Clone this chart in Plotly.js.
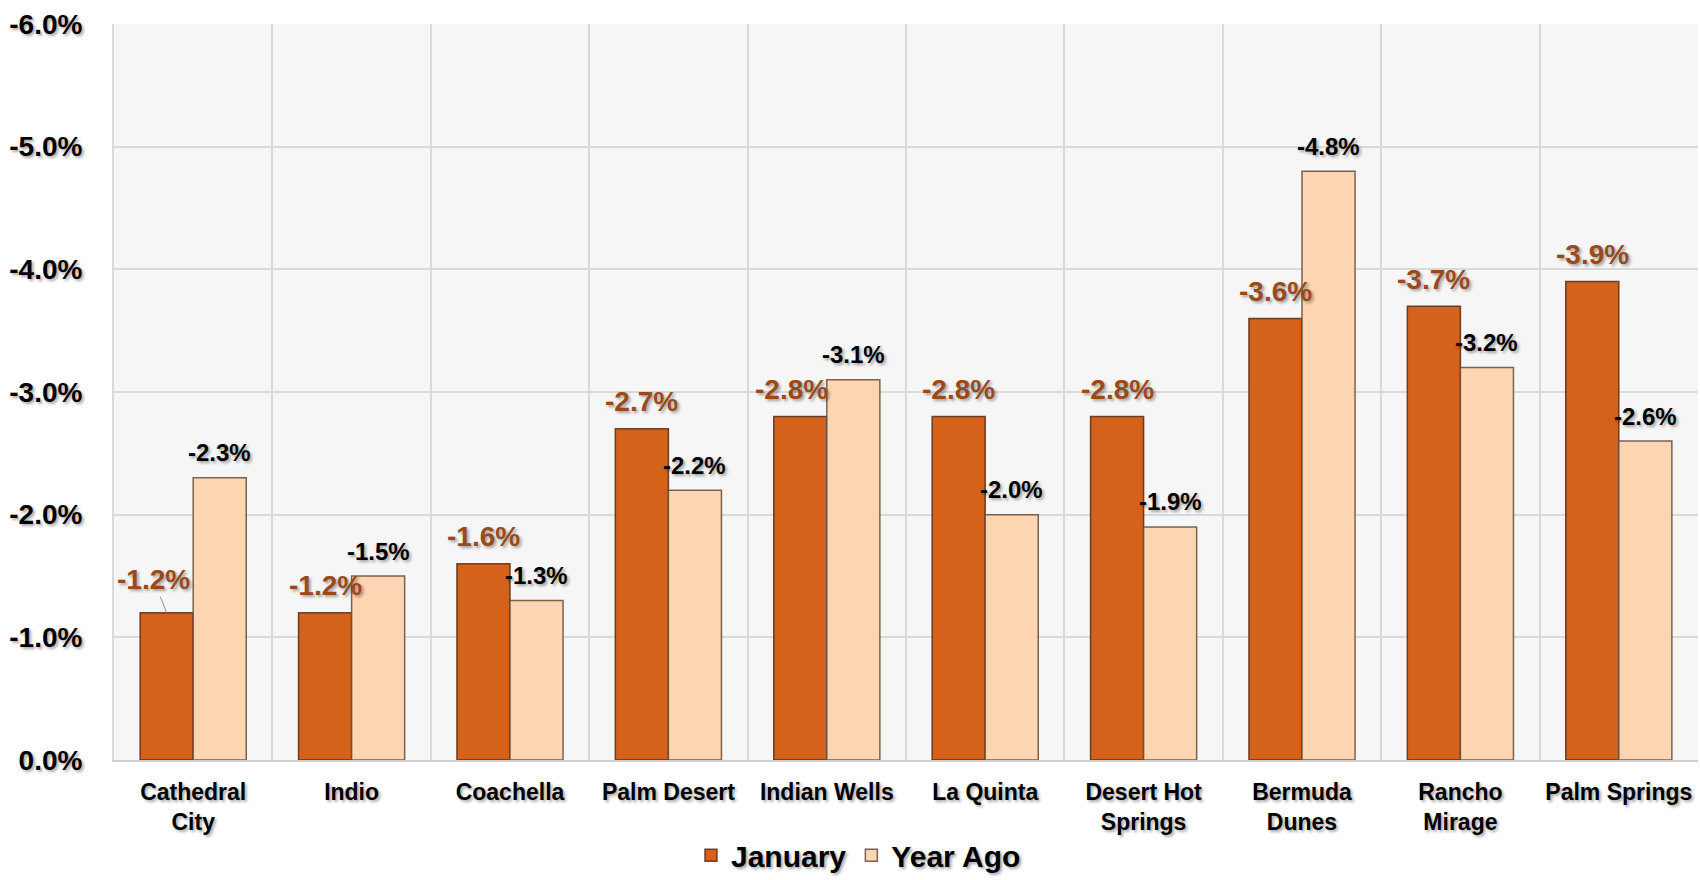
<!DOCTYPE html>
<html>
<head>
<meta charset="utf-8">
<script src="https://cdn.plot.ly/plotly-3.0.1.min.js"></script>
<style>html,body{margin:0;padding:0;background:#fff;}#chart{width:1700px;height:880px;}</style>
</head>
<body>
<div id="chart"></div>
<script>
const categories = ["Cathedral<br>City", "Indio", "Coachella", "Palm Desert", "Indian Wells", "La Quinta", "Desert Hot<br>Springs", "Bermuda<br>Dunes", "Rancho<br>Mirage", "Palm Springs"];
const january = [-1.2, -1.2, -1.6, -2.7, -2.8, -2.8, -2.8, -3.6, -3.7, -3.9];
const yearAgo = [-2.3, -1.5, -1.3, -2.2, -3.1, -2.0, -1.9, -4.8, -3.2, -2.6];
const yTickVals = [0, -1, -2, -3, -4, -5, -6];
const yTickText = ["0.0%", "-1.0%", "-2.0%", "-3.0%", "-4.0%", "-5.0%", "-6.0%"];

const fmt = v => v.toFixed(1) + "%";
const shadow = "2px 2px 3px rgba(0,0,0,0.35)";
const fontFam = "Liberation Sans, Arial, sans-serif";
const bargap = 0.33;
const half = (1 - bargap) / 4;   // offset of each bar's centre in a group

const traces = [
  {
    type: "bar", name: "January", x: categories, y: january,
    marker: {color: "#d4621a", line: {color: "rgba(80,35,10,0.8)", width: 1.5}},
    hoverinfo: "skip"
  },
  {
    type: "bar", name: "Year Ago", x: categories, y: yearAgo,
    marker: {color: "#fdd5b2", line: {color: "rgba(100,75,55,0.85)", width: 1.5}},
    hoverinfo: "skip"
  }
];

const janFont = {family: fontFam, size: 28, color: "#9a4a1a", weight: "bold", shadow: shadow};
const yaFont = {family: fontFam, size: 24, color: "#000", weight: "bold", shadow: shadow};

const annotations = [];
january.forEach((v, i) => {
  const a = {x: i - half, y: v, xref: "x", yref: "y", text: fmt(v), font: janFont,
             showarrow: false, xanchor: "center", yanchor: "middle", yshift: 27};
  if (i === 0) {
    Object.assign(a, {showarrow: true, arrowhead: 0, arrowwidth: 1, arrowcolor: "#8c8c8c",
                      ax: -13, ay: -33, standoff: 0, yshift: 0});
  }
  if (i === 4) a.xshift = -9;
  annotations.push(a);
});
yearAgo.forEach((v, i) => {
  annotations.push({x: i + half, y: v, xref: "x", yref: "y", text: fmt(v), font: yaFont,
                    showarrow: false, xanchor: "center", yanchor: "middle", yshift: 25});
});

const layout = {
  width: 1700, height: 880,
  margin: {l: 114, r: 2, t: 24, b: 120},
  paper_bgcolor: "#ffffff",
  plot_bgcolor: "#f6f6f6",
  barmode: "group", bargap: bargap, bargroupgap: 0,
  showlegend: true,
  legend: {
    orientation: "h", xref: "paper", x: 0.47, xanchor: "center",
    yref: "container", y: 0.028, yanchor: "middle",
    font: {family: fontFam, size: 30, color: "#000", weight: "bold", shadow: shadow},
    traceorder: "normal", itemwidth: 30
  },
  annotations: annotations,
  xaxis: {
    type: "category", range: [-0.5, 9.5], tickson: "boundaries",
    showgrid: true, gridcolor: "#d9d9d9", gridwidth: 2,
    showline: true, linecolor: "#d0d0d0", linewidth: 2,
    ticks: "", ticklabelstandoff: 10, automargin: false,
    tickfont: {family: fontFam, size: 23, color: "#000", weight: "bold", shadow: shadow}
  },
  yaxis: {
    range: [0, -6], tickvals: yTickVals, ticktext: yTickText,
    showgrid: true, gridcolor: "#d9d9d9", gridwidth: 2,
    zeroline: false, showline: true, linecolor: "#d9d9d9", linewidth: 2,
    ticks: "", ticklabelstandoff: 24, automargin: false,
    tickfont: {family: fontFam, size: 28, color: "#000", weight: "bold", shadow: shadow}
  }
};

Plotly.newPlot("chart", traces, layout, {displayModeBar: false, staticPlot: true});
</script>
</body>
</html>
